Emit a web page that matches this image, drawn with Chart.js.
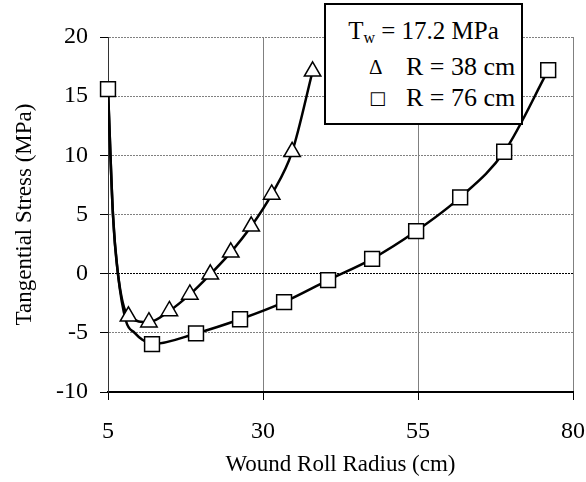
<!DOCTYPE html>
<html>
<head>
<meta charset="utf-8">
<script src="https://cdn.jsdelivr.net/npm/chart.js@4.4.1/dist/chart.umd.min.js"></script>
<style>
  body { margin: 0; background: #fff; }
  #wrap { position: relative; width: 586px; height: 482px; }
  #legenda {
    position: absolute; left: 324px; top: 3px; width: 199px; height: 122px;
    box-sizing: border-box; border: 2px solid #000; background: #fff;
    font-family: "Liberation Serif", "Times New Roman", serif; font-size: 26px; color: #000;
    line-height: 30px;
  }
  #legenda .tit { position: absolute; left: 0; width: 100%; top: 11px; text-align: center; white-space: nowrap; font-size: 25px; }
  #legenda sub { font-size: 16px; vertical-align: -4px; line-height: 0; }
  #legenda .linha { position: absolute; left: 80px; white-space: nowrap; }
  #legenda .simb { position: absolute; left: -37px; font-size: 21px; }
</style>
</head>
<body>
<div id="wrap">
  <canvas id="grafico"></canvas>
  <div id="legenda">
    <div class="tit">T<sub>w</sub> = 17.2 MPa</div>
    <div class="linha" style="top:47px"><span class="simb">&#916;</span>R = 38 cm</div>
    <div class="linha" style="top:78px"><span class="simb" style="font-family:'DejaVu Sans';font-size:18px">&#9633;</span>R = 76 cm</div>
  </div>
</div>
<script>
// === DADOS ===
// marcadores, R = 38 cm
const raio38 = [8.3, 11.6, 14.9, 18.2, 21.5, 24.8, 28.1, 31.4, 34.7, 38];
const tensao38 = [-3.6, -4.1, -3.15, -1.75, -0.05, 1.8, 4.0, 6.7, 10.3, 17.1];
// marcadores, R = 76 cm
const raio76 = [5, 12.1, 19.2, 26.3, 33.4, 40.5, 47.6, 54.7, 61.8, 68.9, 76];
const tensao76 = [15.6, -5.95, -5.05, -3.85, -2.4, -0.55, 1.25, 3.6, 6.45, 10.3, 17.2];
// pontos da curva lidos perto do raio interno (sem marcador)
const curvaRaio38 = [5, 5.8, 6.6, 8.3, 11.6, 14.9, 18.2, 21.5, 24.8, 28.1, 31.4, 34.7, 38];
const curvaTensao38 = [15.6, 5, 0, -3.6, -4.1, -3.15, -1.75, -0.05, 1.8, 4.0, 6.7, 10.3, 17.1];
const curvaRaio76 = [5, 5.8, 6.6, 7.9, 9.3, 10.6, 12.1, 19.2, 26.3, 33.4, 40.5, 47.6, 54.7, 61.8, 68.9, 76];
const curvaTensao76 = [15.6, 5, 0, -4.0, -5.0, -5.6, -5.95, -5.05, -3.85, -2.4, -0.55, 1.25, 3.6, 6.45, 10.3, 17.2];

const ticksX = [5, 30, 55, 80];
const ticksY = [-10, -5, 0, 5, 10, 15, 20];

const FONTE = '"Liberation Serif", "Times New Roman", serif';

function pares(xs, ys) {
  return xs.map((x, i) => ({ x: x, y: ys[i] }));
}

function curva(xs, ys) {
  return {
    data: pares(xs, ys), showLine: true, pointRadius: 0,
    borderColor: '#000', borderWidth: 2.5, fill: false,
    cubicInterpolationMode: 'monotone', order: 2
  };
}

function marcadores(xs, ys, estilo, raio) {
  return {
    data: pares(xs, ys), showLine: false, pointStyle: estilo, pointRadius: raio,
    pointBackgroundColor: '#fff', pointBorderColor: '#000', pointBorderWidth: 1.5,
    clip: false, order: 1
  };
}

new Chart(document.getElementById('grafico'), {
  type: 'scatter',
  data: {
    datasets: [
      curva(curvaRaio38, curvaTensao38),
      curva(curvaRaio76, curvaTensao76),
      marcadores(raio38, tensao38, 'triangle', 9.5),
      marcadores(raio76, tensao76, 'rect', 10.5)
    ]
  },
  options: {
    responsive: true,
    maintainAspectRatio: false,
    animation: false,
    layout: { padding: { top: 37, right: 0, left: 0, bottom: 0 } },
    plugins: { legend: { display: false }, tooltip: { enabled: false } },
    scales: {
      x: {
        type: 'linear', min: 5, max: 80,
        afterBuildTicks: (eixo) => { eixo.ticks = ticksX.map(v => ({ value: v })); },
        afterFit: (eixo) => { eixo.height = 90; eixo.paddingRight = 13; eixo.paddingLeft = 0; },
        grid: { color: '#808080', tickColor: '#000', tickLength: 8, lineWidth: 1 },
        border: { color: '#000', width: 2 },
        ticks: { color: '#000', font: { family: FONTE, size: 24 }, padding: 17, maxRotation: 0 },
        title: { display: true, text: 'Wound Roll Radius (cm)', color: '#000', font: { family: FONTE, size: 23 }, padding: { top: 0, bottom: 3 } }
      },
      y: {
        type: 'linear', min: -10, max: 20,
        afterBuildTicks: (eixo) => { eixo.ticks = ticksY.map(v => ({ value: v })); },
        afterFit: (eixo) => { eixo.width = 108; },
        grid: {
          color: (ctx) => ctx.tick && ctx.tick.value === 0 ? '#000' : '#808080',
          tickColor: '#000', tickLength: 8, lineWidth: 1
        },
        border: { color: '#333', width: 1, dash: [2, 1] },
        ticks: { color: '#000', font: { family: FONTE, size: 24 }, padding: 12 },
        title: { display: true, text: 'Tangential Stress (MPa)', color: '#000', font: { family: FONTE, size: 23 }, padding: { top: 11, bottom: 0 } }
      }
    }
  }
});
</script>
</body>
</html>
